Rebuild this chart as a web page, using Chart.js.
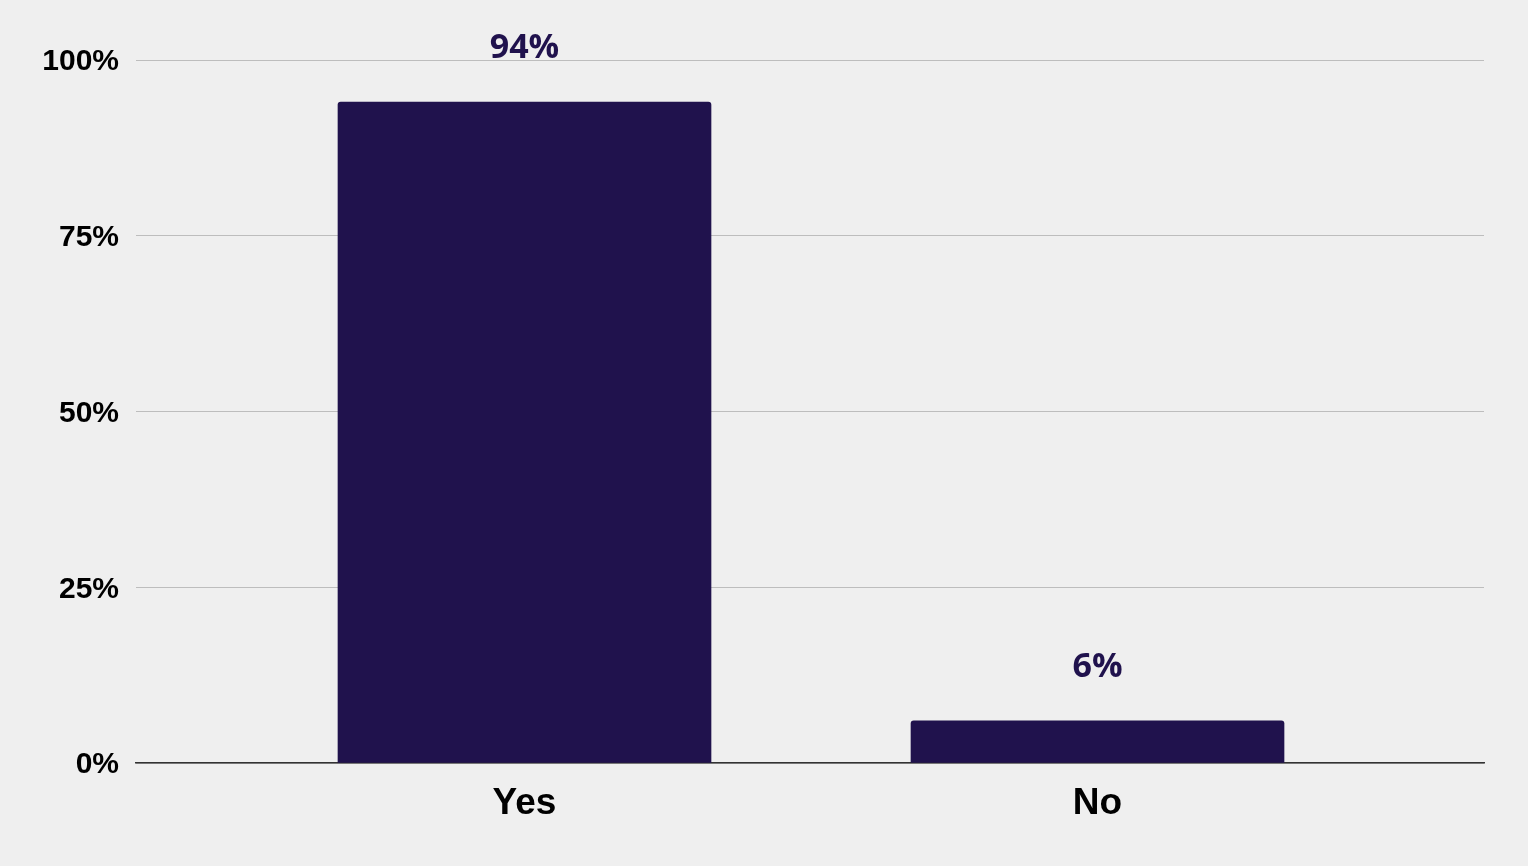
<!DOCTYPE html>
<html>
<head>
<meta charset="utf-8">
<script src="https://cdn.jsdelivr.net/npm/chart.js@4"></script>
<style>
  html, body { margin: 0; padding: 0; background: #efefef; }
  #wrap { width: 1528px; height: 866px; }
</style>
</head>
<body>
<div id="wrap"><canvas id="chart"></canvas></div>
<script>
const categories = ['Yes', 'No'];
const values = [94, 6];
const yTicks = [0, 25, 50, 75, 100];

const barColor = '#20124d';

// value labels above the bars
const barLabels = {
  id: 'barLabels',
  afterDatasetsDraw(chart) {
    const ctx = chart.ctx;
    const meta = chart.getDatasetMeta(0);
    ctx.save();
    ctx.font = 'bold 34px "Open Sans", "Noto Sans", sans-serif';
    ctx.fillStyle = barColor;
    ctx.textAlign = 'center';
    ctx.textBaseline = 'alphabetic';
    meta.data.forEach((bar, i) => {
      ctx.fillText(values[i] + '%', bar.x, bar.y - 44);
    });
    ctx.restore();
  },
};

new Chart(document.getElementById('chart').getContext('2d'), {
  type: 'bar',
  data: {
    datasets: [
      {
        data: categories.map((c, i) => ({ x: i, y: values[i] })),
        backgroundColor: barColor,
        borderRadius: { topLeft: 3, topRight: 3 },
        borderSkipped: 'bottom',
        barThickness: 373,
      },
    ],
  },
  options: {
    responsive: true,
    maintainAspectRatio: false,
    animation: false,
    layout: { padding: { left: 0, right: 44, top: 60, bottom: 0 } },
    plugins: { legend: { display: false }, tooltip: { enabled: false } },
    scales: {
      x: {
        type: 'linear',
        offset: false,
        min: -0.678,
        max: 1.6745,
        afterBuildTicks: (scale) => {
          scale.ticks = categories.map((c, i) => ({ value: i }));
        },
        afterFit: (scale) => {
          scale.height = 103;
        },
        grid: { display: false, offset: false },
        border: { display: true, color: '#333333', width: 1.5 },
        ticks: {
          padding: 11,
          color: '#000000',
          font: { family: '"Liberation Sans", Arial, sans-serif', size: 37, weight: 'bold' },
          callback: (v) => categories[v],
        },
      },
      y: {
        min: 0,
        max: 100,
        afterBuildTicks: (scale) => {
          scale.ticks = yTicks.map((v) => ({ value: v }));
        },
        afterFit: (scale) => {
          scale.width = 136;
        },
        grid: { color: '#bdbdbd', drawTicks: false },
        border: { display: false },
        ticks: {
          padding: 17,
          labelOffset: 2,
          color: '#000000',
          font: { family: '"Liberation Sans", Arial, sans-serif', size: 30, weight: 'bold' },
          callback: (v) => v + '%',
        },
      },
    },
  },
  plugins: [barLabels],
});
</script>
</body>
</html>
